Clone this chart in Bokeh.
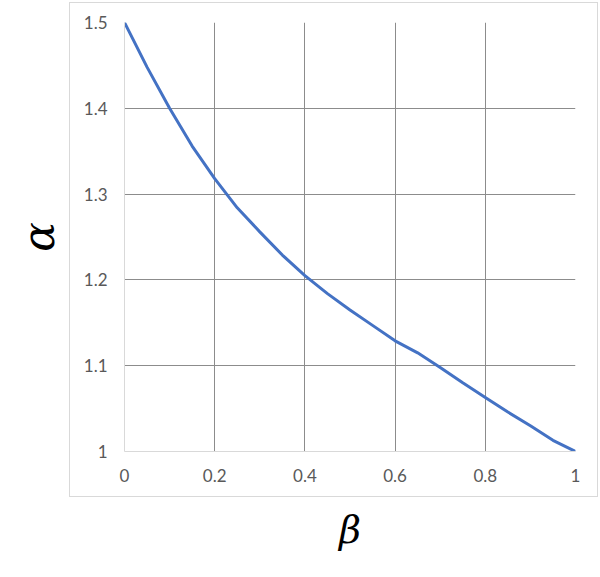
from bokeh.plotting import figure
from bokeh.models import FixedTicker, Range1d, InlineStyleSheet
from bokeh.embed import file_html
from bokeh.resources import INLINE

beta = [0, 0.05, 0.1, 0.15, 0.2, 0.25, 0.3, 0.35, 0.4, 0.45, 0.5,
        0.55, 0.6, 0.65, 0.7, 0.75, 0.8, 0.85, 0.9, 0.95, 1.0]
alpha = [1.5, 1.448, 1.400, 1.356, 1.318, 1.284, 1.256, 1.229, 1.205, 1.184, 1.165,
         1.147, 1.129, 1.115, 1.098, 1.080, 1.063, 1.046, 1.030, 1.013, 1.0]

x_ticks = [0, 0.2, 0.4, 0.6, 0.8, 1.0]
x_labels = ["0", "0.2", "0.4", "0.6", "0.8", "1"]
y_ticks = [1.0, 1.1, 1.2, 1.3, 1.4, 1.5]
y_labels = ["1", "1.1", "1.2", "1.3", "1.4", "1.5"]

p = figure(width=600, height=577, output_backend="svg", toolbar_location=None,
           x_range=Range1d(0, 1), y_range=Range1d(1, 1.5),
           min_border_left=124, min_border_right=25, min_border_top=22, min_border_bottom=126)
p.outline_line_color = None
p.background_fill_color = "white"
p.border_fill_color = "white"

for ax in (p.xaxis[0], p.yaxis[0]):
    ax.axis_line_color = "#d9d9d9"
    ax.major_tick_line_color = None
    ax.minor_tick_line_color = None
    ax.major_tick_out = 0
    ax.major_tick_in = 0
    ax.minor_tick_out = 0
    ax.major_label_text_color = "#595959"
    ax.major_label_text_font = "Lato"
    ax.major_label_text_font_size = "17px"
    ax.axis_label_text_font = "DejaVu Serif"
    ax.axis_label_text_font_style = "italic"
    ax.axis_label_text_color = "black"

p.xaxis.axis_label_text_font_size = "38px"
p.yaxis.axis_label_text_font_size = "44px"

p.xaxis.ticker = FixedTicker(ticks=x_ticks)
p.yaxis.ticker = FixedTicker(ticks=y_ticks)
p.xaxis.major_label_overrides = {t: l for t, l in zip(x_ticks, x_labels)}
p.yaxis.major_label_overrides = {t: l for t, l in zip(y_ticks, y_labels)}
p.xaxis.major_label_standoff = 17
p.yaxis.major_label_standoff = 17
p.xaxis.axis_label = "β"
p.yaxis.axis_label = "α"
p.xaxis.axis_label_standoff = 23
p.yaxis.axis_label_standoff = 17

p.xgrid.ticker = FixedTicker(ticks=x_ticks[1:])
p.ygrid.ticker = FixedTicker(ticks=y_ticks[1:])
p.xgrid.grid_line_color = "#8c8c8c"
p.ygrid.grid_line_color = "#8c8c8c"

# chart-area border (light gray frame around the plot area and tick labels)
p.stylesheets = [InlineStyleSheet(css=(
    ":host::after { content: ''; position: absolute; left: 69px; top: 2px; "
    "width: 529px; height: 495px; border: 1px solid #d9d9d9; "
    "box-sizing: border-box; pointer-events: none; }"))]

p.line(beta, alpha, line_width=3, color="#4472C4")

open("out.html", "w").write(file_html(p, INLINE))
